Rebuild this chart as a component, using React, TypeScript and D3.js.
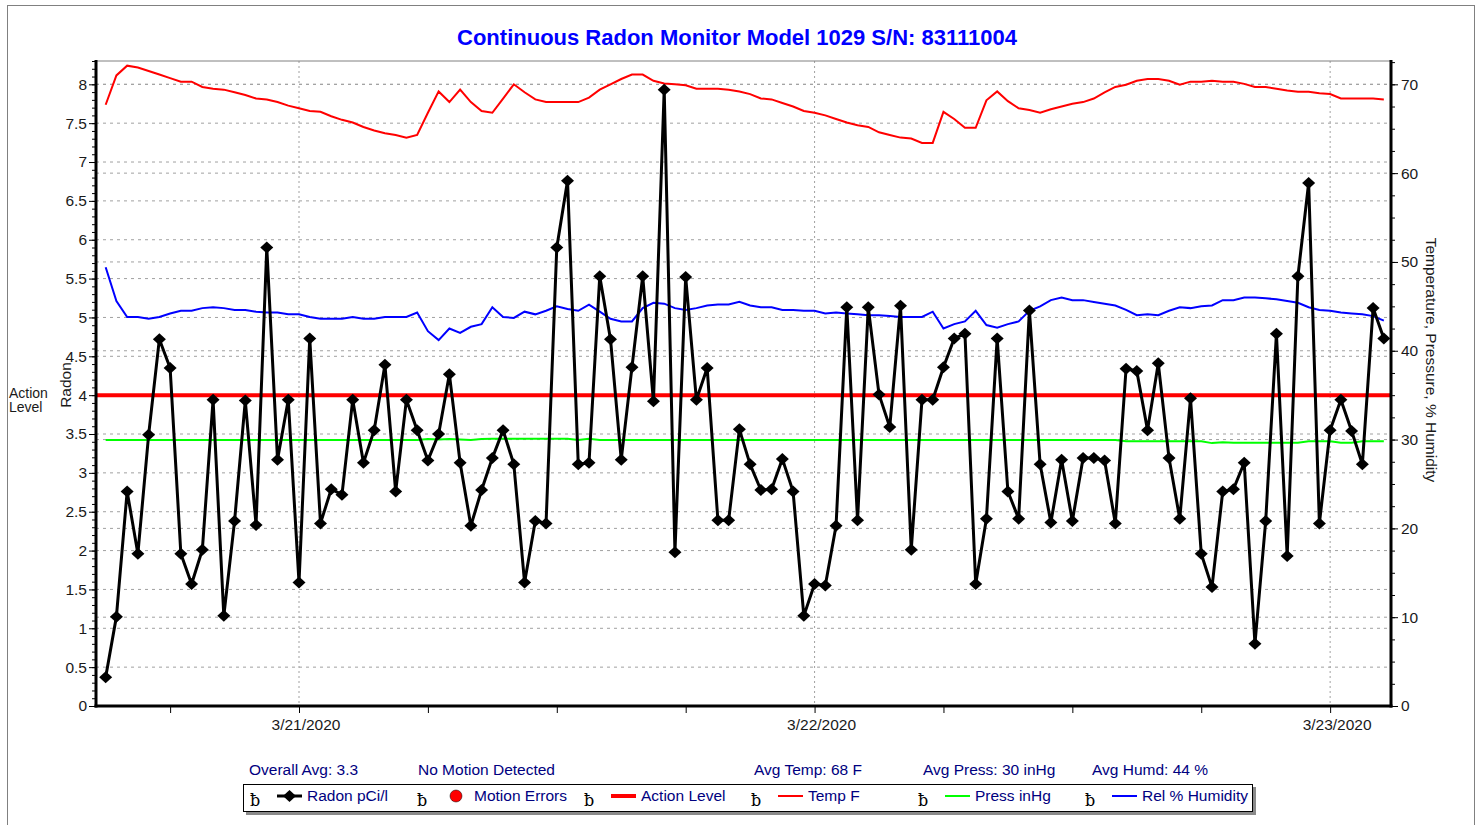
import { useEffect, useRef } from 'react';
import * as d3 from 'd3';

const W = 1481;
const H = 825;
const FONT = "Arial, 'Liberation Sans', sans-serif";
const FS = 15.5;

// readings every 30 minutes starting 3/20/2020 15:00
const startTime = new Date(2020, 2, 20, 15, 0);
const stepMinutes = 30;

const radon = [
  0.37, 1.15, 2.76, 1.96, 3.49, 4.72, 4.35, 1.96, 1.57, 2.01,
  3.94, 1.16, 2.38, 3.93, 2.33, 5.9, 3.17, 3.94, 1.59, 4.73,
  2.35, 2.79, 2.72, 3.94, 3.13, 3.55, 4.39, 2.76, 3.94, 3.55,
  3.16, 3.5, 4.27, 3.13, 2.32, 2.78, 3.19, 3.55, 3.11, 1.59,
  2.38, 2.35, 5.9, 6.76, 3.11, 3.13, 5.53, 4.72, 3.17, 4.36,
  5.53, 3.92, 7.93, 1.98, 5.52, 3.94, 4.35, 2.39, 2.39, 3.56,
  3.11, 2.78, 2.79, 3.18, 2.76, 1.16, 1.57, 1.55, 2.32, 5.13,
  2.39, 5.13, 4.01, 3.59, 5.15, 2.01, 3.94, 3.94, 4.36, 4.73,
  4.79, 1.57, 2.41, 4.73, 2.76, 2.41, 5.09, 3.11, 2.36, 3.17,
  2.38, 3.19, 3.19, 3.16, 2.35, 4.34, 4.31, 3.55, 4.41, 3.19,
  2.41, 3.96, 1.96, 1.53, 2.76, 2.79, 3.13, 0.8, 2.38, 4.79,
  1.93, 5.53, 6.73, 2.35, 3.55, 3.94, 3.54, 3.11, 5.12, 4.73,
];

const tempF = [
  67.7, 71.0, 72.1, 71.9, 71.5, 71.1, 70.7, 70.3, 70.3, 69.7,
  69.5, 69.4, 69.1, 68.8, 68.4, 68.3, 68.0, 67.6, 67.3, 67.0,
  66.9, 66.4, 66.0, 65.7, 65.2, 64.8, 64.5, 64.3, 64.0, 64.3,
  66.8, 69.2, 68.0, 69.4, 68.0, 67.0, 66.8, 68.4, 70.0, 69.1,
  68.3, 68.0, 68.0, 68.0, 68.0, 68.5, 69.4, 70.0, 70.6, 71.1,
  71.1, 70.4, 70.1, 70.0, 69.9, 69.5, 69.5, 69.5, 69.4, 69.2,
  68.9, 68.4, 68.3, 67.9, 67.5, 67.0, 66.8, 66.5, 66.1, 65.7,
  65.4, 65.2, 64.6, 64.3, 64.0, 63.9, 63.4, 63.4, 66.9, 66.1,
  65.1, 65.1, 68.2, 69.2, 68.1, 67.3, 67.1, 66.8, 67.2, 67.5,
  67.8, 68.0, 68.4, 69.1, 69.7, 69.95, 70.4, 70.6, 70.6, 70.4,
  69.95, 70.3, 70.3, 70.4, 70.3, 70.3, 70.05, 69.7, 69.7, 69.5,
  69.3, 69.15, 69.15, 69.0, 68.9, 68.4, 68.4, 68.4, 68.4, 68.3,
];

const pressInHg = [
  29.95, 29.95, 29.95, 29.95, 29.95, 29.95, 29.95, 29.95, 29.95, 29.95,
  29.95, 29.95, 29.95, 29.95, 29.95, 29.95, 29.95, 29.95, 29.95, 29.95,
  29.95, 29.95, 29.95, 29.95, 29.95, 29.95, 29.95, 29.95, 29.95, 29.95,
  30.05, 30.0, 30.05, 30.0, 29.95, 30.05, 30.1, 30.1, 30.1, 30.1,
  30.1, 30.1, 30.1, 30.1, 29.95, 30.1, 29.95, 29.95, 29.95, 29.95,
  29.95, 29.95, 29.95, 29.95, 29.95, 29.95, 29.95, 29.95, 29.95, 29.95,
  29.95, 29.95, 29.95, 29.95, 29.95, 29.95, 29.95, 29.95, 29.95, 29.95,
  29.95, 29.95, 29.95, 29.95, 29.95, 29.95, 29.95, 29.95, 29.95, 29.95,
  29.95, 29.95, 29.95, 29.95, 29.95, 29.95, 29.95, 29.95, 29.95, 29.95,
  29.95, 29.95, 29.95, 29.95, 29.95, 29.8, 29.8, 29.8, 29.8, 29.8,
  29.8, 29.8, 29.8, 29.6, 29.7, 29.65, 29.65, 29.65, 29.65, 29.65,
  29.65, 29.65, 29.8, 29.8, 29.8, 29.65, 29.65, 29.8, 29.8, 29.8,
];

const humidity = [
  49.4, 45.6, 43.8, 43.8, 43.6, 43.8, 44.2, 44.5, 44.5, 44.8,
  44.9, 44.8, 44.6, 44.6, 44.4, 44.3, 44.3, 44.1, 44.1, 43.8,
  43.6, 43.6, 43.6, 43.8, 43.6, 43.6, 43.8, 43.8, 43.8, 44.3,
  42.2, 41.2, 42.5, 42.0, 42.7, 43.0, 44.9, 43.8, 43.7, 44.4,
  44.1, 44.5, 45.0, 44.7, 44.5, 45.2, 44.4, 43.6, 43.3, 43.3,
  44.8, 45.4, 45.3, 44.8, 44.6, 44.8, 45.1, 45.2, 45.2, 45.5,
  45.1, 44.9, 44.9, 44.6, 44.6, 44.5, 44.5, 44.2, 44.3, 44.2,
  44.1, 44.0, 44.0, 43.9, 43.8, 43.8, 43.8, 44.4, 42.5, 43.0,
  43.3, 44.5, 42.9, 42.6, 43.0, 43.3, 44.5, 45.0, 45.7, 46.0,
  45.7, 45.7, 45.5, 45.3, 45.1, 44.6, 44.0, 44.1, 44.0, 44.5,
  44.9, 44.8, 45.0, 45.1, 45.7, 45.7, 46.0, 46.0, 45.9, 45.8,
  45.6, 45.4, 44.9, 44.6, 44.5, 44.3, 44.2, 44.1, 43.9, 43.4,
];

const actionLevel = 4;
const leftTicks = [0, 0.5, 1, 1.5, 2, 2.5, 3, 3.5, 4, 4.5, 5, 5.5, 6, 6.5, 7, 7.5, 8];
const rightTicks = [0, 10, 20, 30, 40, 50, 60, 70];
const dateLabels = ['3/21/2020', '3/22/2020', '3/23/2020'];

const title = 'Continuous Radon Monitor Model 1029 S/N: 83111004';
const stats = ['Overall Avg: 3.3', 'No Motion Detected', 'Avg Temp: 68 F', 'Avg Press: 30 inHg', 'Avg Humd: 44 %'];
const legendNames = ['Radon pCi/l', 'Motion Errors', 'Action Level', 'Temp F', 'Press inHg', 'Rel % Humidity'];

function RadonChart() {
  const svgRef = useRef<SVGSVGElement>(null);

  useEffect(() => {
    document.body.style.margin = '0';
    const svg = d3.select(svgRef.current);
    svg.selectAll('*').remove();

    const left = 96;
    const right = 1391;
    const top = 61;
    const bottom = 706;

    const x = d3
      .scaleTime()
      .domain([new Date(2020, 2, 20, 14, 33), new Date(2020, 2, 23, 2, 50)])
      .range([left, right]);
    const yL = d3.scaleLinear().domain([0, 8.3]).range([bottom, top]);
    const yR = d3.scaleLinear().domain([0, (8.3 * 70) / 8]).range([bottom, top]);

    const times = radon.map((_, i) => d3.timeMinute.offset(startTime, i * stepMinutes));

    svg.append('rect').attr('width', W).attr('height', H).attr('fill', '#fff');
    // outer frame
    svg
      .append('rect')
      .attr('x', 7.5)
      .attr('y', 5.5)
      .attr('width', 1467)
      .attr('height', 840)
      .attr('fill', 'none')
      .attr('stroke', '#808080');

    svg
      .append('text')
      .attr('x', 737)
      .attr('y', 45)
      .attr('text-anchor', 'middle')
      .attr('font-family', FONT)
      .attr('font-size', 22)
      .attr('font-weight', 'bold')
      .attr('fill', '#0000ff')
      .text(title);

    // grid
    const grid = svg.append('g').attr('stroke', '#a0a0a0').attr('stroke-dasharray', '3,4');
    grid
      .selectAll('.gl')
      .data(leftTicks.filter(d => d > 0))
      .join('line')
      .attr('x1', left)
      .attr('x2', right)
      .attr('y1', d => yL(d))
      .attr('y2', d => yL(d));
    grid
      .selectAll('.gr')
      .data(rightTicks.filter(d => d > 0))
      .join('line')
      .attr('class', 'gr')
      .attr('x1', left)
      .attr('x2', right)
      .attr('y1', d => yR(d))
      .attr('y2', d => yR(d));
    const midnights = d3.timeDay.range(x.domain()[0], x.domain()[1]);
    svg
      .append('g')
      .selectAll('line')
      .data(midnights)
      .join('line')
      .attr('x1', d => x(d))
      .attr('x2', d => x(d))
      .attr('y1', top)
      .attr('y2', bottom)
      .attr('stroke', '#a0a0a0')
      .attr('stroke-dasharray', '2,3');

    // action level
    svg
      .append('line')
      .attr('x1', left)
      .attr('x2', right)
      .attr('y1', yL(actionLevel))
      .attr('y2', yL(actionLevel))
      .attr('stroke', '#ff0000')
      .attr('stroke-width', 4);

    const envLine = d3
      .line<number>()
      .x((_, i) => x(times[i]))
      .y(d => yR(d));
    [
      [tempF, '#ff0000'],
      [pressInHg, '#00ff00'],
      [humidity, '#0000ff'],
    ].forEach(([vals, color]) => {
      svg
        .append('path')
        .attr('d', envLine(vals as number[]))
        .attr('fill', 'none')
        .attr('stroke', color as string)
        .attr('stroke-width', 2);
    });

    const radonLine = d3
      .line<number>()
      .x((_, i) => x(times[i]))
      .y(d => yL(d));
    svg
      .append('path')
      .attr('d', radonLine(radon))
      .attr('fill', 'none')
      .attr('stroke', '#000')
      .attr('stroke-width', 3)
      .attr('stroke-linejoin', 'round');
    svg
      .append('g')
      .selectAll('path')
      .data(radon)
      .join('path')
      .attr('d', 'M0,-6L6.5,0L0,6L-6.5,0Z')
      .attr('transform', (d, i) => `translate(${x(times[i])},${yL(d)})`)
      .attr('fill', '#000');

    // axes
    const styleAxis = (g: any) => {
      g.select('.domain').remove();
      g.selectAll('.tick line').attr('stroke', '#000');
      g.selectAll('.tick text').attr('font-family', FONT).attr('font-size', FS).attr('fill', '#1a1a1a');
    };
    svg
      .append('g')
      .attr('transform', `translate(${left - 1},0)`)
      .call(d3.axisLeft(yL).tickValues(d3.range(0, 8.31, 0.1)).tickSize(3).tickFormat(() => ''))
      .call(styleAxis);
    svg
      .append('g')
      .attr('transform', `translate(${left - 1},0)`)
      .call(d3.axisLeft(yL).tickValues(leftTicks).tickSize(6).tickPadding(2).tickFormat(d => String(d)))
      .call(styleAxis);
    svg
      .append('g')
      .attr('transform', `translate(${right + 1},0)`)
      .call(d3.axisRight(yR).tickValues(d3.range(0, 72.6, 2.5)).tickSize(3).tickFormat(() => ''))
      .call(styleAxis);
    svg
      .append('g')
      .attr('transform', `translate(${right + 1},0)`)
      .call(d3.axisRight(yR).tickValues(rightTicks).tickSize(6).tickPadding(3).tickFormat(d => String(d)))
      .call(styleAxis);
    svg
      .append('g')
      .attr('transform', `translate(0,${bottom + 1})`)
      .call(
        d3
          .axisBottom(x)
          .tickValues(d3.timeHour.every(6)!.range(x.domain()[0], x.domain()[1]))
          .tickSize(6)
          .tickFormat(() => ''),
      )
      .call(styleAxis);
    svg
      .append('g')
      .selectAll('text')
      .data(midnights)
      .join('text')
      .attr('x', d => x(d) + 7)
      .attr('y', 730)
      .attr('text-anchor', 'middle')
      .attr('font-family', FONT)
      .attr('font-size', FS)
      .attr('fill', '#1a1a1a')
      .text((_, i) => dateLabels[i]);

    // frame lines
    svg.append('line').attr('x1', left).attr('x2', right).attr('y1', top).attr('y2', top).attr('stroke', '#808080');
    svg.append('line').attr('x1', left).attr('x2', left).attr('y1', top - 1).attr('y2', bottom + 1.5).attr('stroke', '#000').attr('stroke-width', 3);
    svg.append('line').attr('x1', right).attr('x2', right).attr('y1', top - 1).attr('y2', bottom + 1.5).attr('stroke', '#000').attr('stroke-width', 3);
    svg.append('line').attr('x1', left - 1.5).attr('x2', right + 1.5).attr('y1', bottom).attr('y2', bottom).attr('stroke', '#000').attr('stroke-width', 3);

    // axis titles
    svg
      .append('text')
      .attr('transform', `translate(71,385) rotate(-90)`)
      .attr('text-anchor', 'middle')
      .attr('font-family', FONT)
      .attr('font-size', FS)
      .attr('fill', '#1a1a1a')
      .text('Radon');
    svg
      .append('text')
      .attr('transform', `translate(1426,360) rotate(90)`)
      .attr('text-anchor', 'middle')
      .attr('font-family', FONT)
      .attr('font-size', FS)
      .attr('fill', '#1a1a1a')
      .text('Temperature, Pressure, % Humidity');
    const al = svg.append('text').attr('font-family', FONT).attr('font-size', 14).attr('fill', '#1a1a1a');
    al.append('tspan').attr('x', 9).attr('y', 398).text('Action');
    al.append('tspan').attr('x', 9).attr('y', 412).text('Level');

    // stats
    const statX = [249, 418, 754, 923, 1092];
    svg
      .append('g')
      .selectAll('text')
      .data(stats)
      .join('text')
      .attr('x', (_, i) => statX[i])
      .attr('y', 775)
      .attr('font-family', FONT)
      .attr('font-size', FS)
      .attr('fill', '#000080')
      .text(d => d);

    // legend
    svg.append('rect').attr('x', 246).attr('y', 787).attr('width', 1010).attr('height', 28).attr('fill', '#8a8a8a');
    svg
      .append('rect')
      .attr('x', 243.5)
      .attr('y', 784.5)
      .attr('width', 1009)
      .attr('height', 27)
      .attr('fill', '#fff')
      .attr('stroke', '#000');
    const ly = 796;
    legendNames.forEach((name, i) => {
      const gx = 250 + i * 167;
      const g = svg.append('g');
      g.append('text')
        .attr('x', gx)
        .attr('y', 806)
        .attr('font-family', "'DejaVu Serif', serif")
        .attr('font-size', 16)
        .attr('fill', '#000')
        .text('ƀ');
      const mx = gx + 27;
      if (i === 0) {
        g.append('line').attr('x1', mx).attr('x2', mx + 25).attr('y1', ly).attr('y2', ly).attr('stroke', '#000').attr('stroke-width', 3);
        g.append('path').attr('d', 'M0,-6L6.5,0L0,6L-6.5,0Z').attr('transform', `translate(${mx + 12.5},${ly})`).attr('fill', '#000');
      } else if (i === 1) {
        g.append('circle').attr('cx', mx + 12).attr('cy', ly).attr('r', 6).attr('fill', '#ff0000').attr('stroke', '#000').attr('stroke-width', 0.5);
      } else {
        const colors = ['', '', '#ff0000', '#ff0000', '#00ff00', '#0000ff'];
        g.append('line')
          .attr('x1', mx)
          .attr('x2', mx + 25)
          .attr('y1', ly)
          .attr('y2', ly)
          .attr('stroke', colors[i])
          .attr('stroke-width', i === 2 ? 4 : 2);
      }
      g.append('text')
        .attr('x', gx + 57)
        .attr('y', 801)
        .attr('font-family', FONT)
        .attr('font-size', FS)
        .attr('fill', '#000080')
        .text(name);
    });
  }, []);

  return <svg ref={svgRef} width={W} height={H} style={{ display: 'block' }} />;
}

export default function App() {
  return <RadonChart />;
}
